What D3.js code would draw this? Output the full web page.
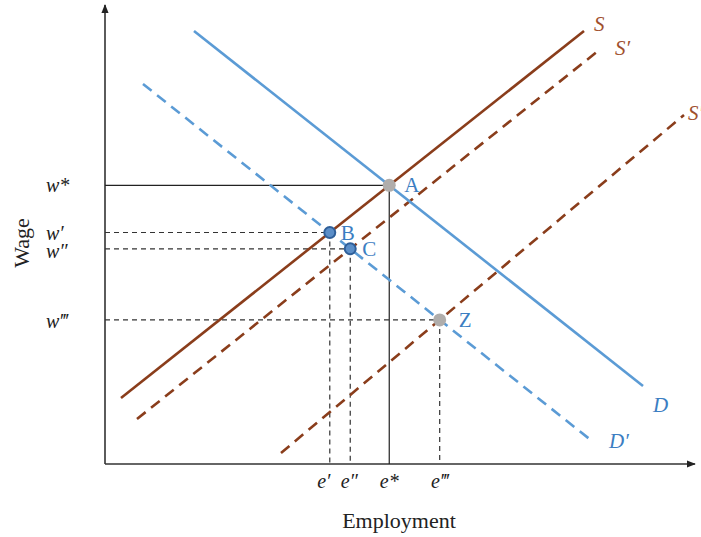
<!DOCTYPE html>
<html>
<head>
<meta charset="utf-8">
<script src="https://cdn.jsdelivr.net/npm/d3@7"></script>
<style>
  body { margin: 0; background: #fff; }
  svg { display: block; }
  text { font-family: "Liberation Serif", "DejaVu Serif", serif; }
</style>
</head>
<body>
<svg id="chart" width="701" height="537"></svg>
<script>
// Supply and demand schedules, each given by two end points (employment, wage)
const supplyNames = ["S", "S′", "S″"];
const supplyStart = [[16, 66], [32, 45], [176, 11]];
const supplyEnd   = [[479, 433], [493, 413], [579, 349]];
const supplyDashed = [false, true, true];

const demandNames = ["D", "D′"];
const demandStart = [[89, 433], [38, 380]];
const demandEnd   = [[538, 78], [487, 23]];
const demandDashed = [false, true];

// Equilibria: point label, supply index, demand index, wage tick, employment tick
const eqLabels = ["A", "B", "C", "Z"];
const eqSupply = [0, 0, 1, 2];
const eqDemand = [0, 1, 1, 1];
const wageTicks = ["w*", "w′", "w″", "w‴"];
const empTicks  = ["e*", "e′", "e″", "e‴"];
const eqMarker  = ["grey", "blue", "blue", "grey"];

const brown = "#8a3d1b";
const blue = "#5b9bd5";
const labelBlue = "#3c7ec2";

// Label placement relative to curve end points / markers (pixels)
const supplyLabelDx = [10, 17, 4], supplyLabelDy = [0, 4, 5];
const demandLabelDx = [10, 17], demandLabelDy = [26, 7];
const pointLabelDx = [15, 11, 12, 19];
const wageLabelDy = [7, 7, 9, 8];
const empLabelDx = [0, -6, -1, 0];

const svg = d3.select("#chart");
const x = d3.scaleLinear().domain([0, 590]).range([105, 695]);
const y = d3.scaleLinear().domain([0, 459]).range([464, 5]);

function intersect(p1, p2, p3, p4) {
  const [x1, y1] = p1, [x2, y2] = p2, [x3, y3] = p3, [x4, y4] = p4;
  const den = (x1 - x2) * (y3 - y4) - (y1 - y2) * (x3 - x4);
  const t = ((x1 - x3) * (y3 - y4) - (y1 - y3) * (x3 - x4)) / den;
  return [x1 + t * (x2 - x1), y1 + t * (y2 - y1)];
}

// Axes with arrow heads
svg.append("defs").append("marker")
  .attr("id", "arrow").attr("viewBox", "0 0 10 10")
  .attr("refX", 9).attr("refY", 5)
  .attr("markerWidth", 9).attr("markerHeight", 9)
  .attr("markerUnits", "userSpaceOnUse")
  .attr("orient", "auto")
  .append("path").attr("d", "M0,1 L10,5 L0,9 Z").attr("fill", "#222");

svg.append("line")
  .attr("x1", x(0)).attr("y1", y(0)).attr("x2", x(590)).attr("y2", y(0))
  .attr("stroke", "#333").attr("stroke-width", 1.6).attr("marker-end", "url(#arrow)");
svg.append("line")
  .attr("x1", x(0)).attr("y1", y(0)).attr("x2", x(0)).attr("y2", y(459))
  .attr("stroke", "#333").attr("stroke-width", 1.6).attr("marker-end", "url(#arrow)");

// Equilibrium points and guide lines
const eqPoints = eqLabels.map((lab, i) =>
  intersect(supplyStart[eqSupply[i]], supplyEnd[eqSupply[i]],
            demandStart[eqDemand[i]], demandEnd[eqDemand[i]]));

const guides = svg.append("g");
eqPoints.forEach((p, i) => {
  const dash = i === 0 ? null : "5,4";
  const col = i === 0 ? "#222" : "#333";
  guides.append("line")
    .attr("x1", x(0)).attr("y1", y(p[1])).attr("x2", x(p[0])).attr("y2", y(p[1]))
    .attr("stroke", col).attr("stroke-width", 1.2).attr("stroke-dasharray", dash);
  guides.append("line")
    .attr("x1", x(p[0])).attr("y1", y(p[1])).attr("x2", x(p[0])).attr("y2", y(0))
    .attr("stroke", col).attr("stroke-width", 1.2).attr("stroke-dasharray", dash);
});

// Supply curves
supplyNames.forEach((name, i) => {
  svg.append("line")
    .attr("x1", x(supplyStart[i][0])).attr("y1", y(supplyStart[i][1]))
    .attr("x2", x(supplyEnd[i][0])).attr("y2", y(supplyEnd[i][1]))
    .attr("stroke", brown).attr("stroke-width", 2.6)
    .attr("stroke-dasharray", supplyDashed[i] ? "11,7" : null);
  svg.append("text")
    .attr("x", x(supplyEnd[i][0]) + supplyLabelDx[i])
    .attr("y", y(supplyEnd[i][1]) + supplyLabelDy[i])
    .attr("fill", "#a0502e").attr("font-size", 21).attr("font-style", "italic")
    .text(name);
});

// Demand curves
demandNames.forEach((name, i) => {
  svg.append("line")
    .attr("x1", x(demandStart[i][0])).attr("y1", y(demandStart[i][1]))
    .attr("x2", x(demandEnd[i][0])).attr("y2", y(demandEnd[i][1]))
    .attr("stroke", blue).attr("stroke-width", 2.6)
    .attr("stroke-dasharray", demandDashed[i] ? "11,7" : null);
  svg.append("text")
    .attr("x", x(demandEnd[i][0]) + demandLabelDx[i])
    .attr("y", y(demandEnd[i][1]) + demandLabelDy[i])
    .attr("fill", labelBlue).attr("font-size", 21).attr("font-style", "italic")
    .text(name);
});

// Markers and point labels
eqPoints.forEach((p, i) => {
  if (eqMarker[i] === "grey") {
    svg.append("circle").attr("cx", x(p[0])).attr("cy", y(p[1])).attr("r", 6.5)
      .attr("fill", "#b0adab");
  } else {
    svg.append("circle").attr("cx", x(p[0])).attr("cy", y(p[1])).attr("r", 5.5)
      .attr("fill", "#5b8ec8").attr("stroke", "#2f5f99").attr("stroke-width", 2);
  }
  svg.append("text")
    .attr("x", x(p[0]) + pointLabelDx[i]).attr("y", y(p[1]) + 7)
    .attr("fill", labelBlue).attr("font-size", 21)
    .text(eqLabels[i]);
});

// Wage and employment tick labels
eqPoints.forEach((p, i) => {
  svg.append("text")
    .attr("x", 46).attr("y", y(p[1]) + wageLabelDy[i])
    .attr("fill", "#222").attr("font-size", 20).attr("font-style", "italic")
    .text(wageTicks[i]);
  svg.append("text")
    .attr("x", x(p[0]) + empLabelDx[i]).attr("y", 488).attr("text-anchor", "middle")
    .attr("fill", "#222").attr("font-size", 20).attr("font-style", "italic")
    .text(empTicks[i]);
});

// Axis titles
svg.append("text").attr("x", 399).attr("y", 528).attr("text-anchor", "middle")
  .attr("fill", "#222").attr("font-size", 22).text("Employment");
svg.append("text").attr("transform", "translate(29,243) rotate(-90)")
  .attr("text-anchor", "middle").attr("fill", "#222").attr("font-size", 22).text("Wage");
</script>
</body>
</html>
